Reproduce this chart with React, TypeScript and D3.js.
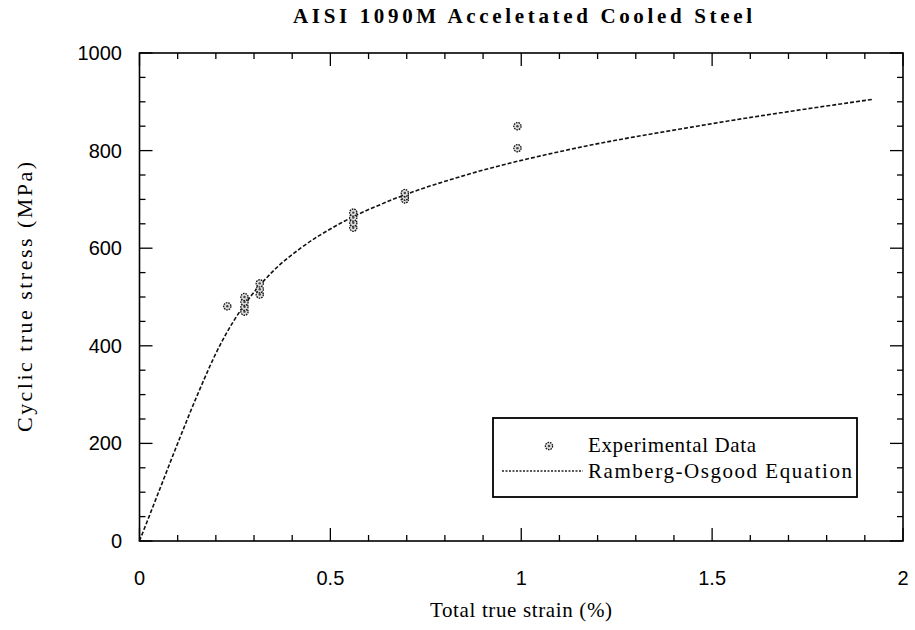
import React from "react";
import * as d3 from "d3";

const title = "AISI 1090M Acceletated Cooled Steel";
const xLabel = "Total true strain (%)";
const yLabel = "Cyclic true stress (MPa)";

const xMajorTicks = [0, 0.5, 1, 1.5, 2];
const xTickLabels = ["0", "0.5", "1", "1.5", "2"];
const yMajorTicks = [0, 200, 400, 600, 800, 1000];
const yTickLabels = ["0", "200", "400", "600", "800", "1000"];

// Experimental data (strain %, stress MPa)
const expStrain = [0.23, 0.275, 0.275, 0.275, 0.275, 0.315, 0.315, 0.315, 0.56, 0.56, 0.56, 0.56, 0.695, 0.695, 0.695, 0.99, 0.99];
const expStress = [481, 470, 480, 490, 500, 505, 516, 528, 642, 652, 663, 673, 700, 706, 713, 805, 850];

// Ramberg-Osgood curve points
const roStrain = [0, 0.05, 0.1, 0.152, 0.21, 0.246, 0.29, 0.346, 0.422, 0.524, 0.664, 0.855, 1.113, 1.46, 1.92];
const roStress = [0, 100, 200, 300, 400, 450, 500, 550, 600, 650, 700, 750, 800, 850, 905];

const W = 915, H = 630;
const M = { left: 139.5, right: 903, top: 53, bottom: 541 };

export default function App() {
  const x = d3.scaleLinear().domain([0, 2]).range([M.left, M.right]);
  const y = d3.scaleLinear().domain([0, 1000]).range([M.bottom, M.top]);
  const xMinor = d3.range(0, 2.0001, 0.1).map((v) => +v.toFixed(2));
  const yMinor = d3.range(0, 1000.1, 50);
  const isXMajor = (v: number) => Math.abs(v * 2 - Math.round(v * 2)) < 1e-6;
  const isYMajor = (v: number) => v % 200 === 0;

  const line = d3
    .line<number>()
    .x((_, i) => x(roStrain[i]))
    .y((d) => y(d))
    .curve(d3.curveMonotoneX);
  const path = line(roStress) || "";

  const serif = "'Liberation Serif', 'Times New Roman', serif";
  const sans = "'Liberation Sans', Arial, sans-serif";
  const minorLen = 6, majorLen = 13;

  const marker = (cx: number, cy: number, key: string) => (
    <g key={key}>
      <circle cx={cx} cy={cy} r={3.6} fill="#ddd" stroke="#111" strokeWidth={1.3} strokeDasharray="1.6,0.9" />
      <circle cx={cx} cy={cy} r={1.2} fill="#444" />
    </g>
  );

  return (
    <svg width={W} height={H} style={{ position: "absolute", left: 0, top: 0, background: "#fff" }}>
      <rect x={0} y={0} width={W} height={H} fill="#fff" />
      <text x={293} y={23} fontFamily={serif} fontWeight="bold" fontSize={21} textLength={459} lengthAdjust="spacing">
        {title}
      </text>

      {/* frame */}
      <rect x={M.left} y={M.top} width={M.right - M.left} height={M.bottom - M.top} fill="none" stroke="#000" strokeWidth={1.6} />

      {/* x ticks top and bottom */}
      {xMinor.map((v, i) => {
        const len = isXMajor(v) ? majorLen : minorLen;
        return (
          <g key={"xt" + i} stroke="#000" strokeWidth={1.3}>
            <line x1={x(v)} x2={x(v)} y1={M.bottom} y2={M.bottom - len} />
            <line x1={x(v)} x2={x(v)} y1={M.top} y2={M.top + len} />
          </g>
        );
      })}
      {/* y ticks left and right */}
      {yMinor.map((v, i) => {
        const len = isYMajor(v) ? majorLen : minorLen;
        return (
          <g key={"yt" + i} stroke="#000" strokeWidth={1.3}>
            <line x1={M.left} x2={M.left + len} y1={y(v)} y2={y(v)} />
            <line x1={M.right} x2={M.right - len} y1={y(v)} y2={y(v)} />
          </g>
        );
      })}

      {xMajorTicks.map((v, i) => (
        <text key={"xl" + i} x={x(v)} y={585} textAnchor="middle" fontFamily={sans} fontSize={20}>
          {xTickLabels[i]}
        </text>
      ))}
      {yMajorTicks.map((v, i) => (
        <text key={"yl" + i} x={122} y={y(v) + 7} textAnchor="end" fontFamily={sans} fontSize={20}>
          {yTickLabels[i]}
        </text>
      ))}

      <text x={430} y={617} fontFamily={serif} fontSize={21} textLength={182} lengthAdjust="spacing">
        {xLabel}
      </text>
      <text transform={`translate(32, 432) rotate(-90)`} fontFamily={serif} fontSize={22} textLength={270} lengthAdjust="spacing">
        {yLabel}
      </text>

      {/* curve */}
      <path d={path} fill="none" stroke="#111" strokeWidth={1.6} strokeDasharray="4,2" />

      {/* data */}
      {expStrain.map((s, i) => marker(x(s), y(expStress[i]), "p" + i))}

      {/* legend */}
      <rect x={493} y={418} width={364} height={79} fill="#fff" stroke="#000" strokeWidth={1.8} />
      {marker(549, 446, "lg")}
      <text x={588} y={452} fontFamily={serif} fontSize={21} textLength={168} lengthAdjust="spacing">Experimental Data</text>
      <line x1={502} x2={583} y1={471} y2={471} stroke="#222" strokeWidth={1.3} strokeDasharray="2,1.5" />
      <text x={588} y={478} fontFamily={serif} fontSize={21} textLength={264} lengthAdjust="spacing">Ramberg-Osgood Equation</text>
    </svg>
  );
}
